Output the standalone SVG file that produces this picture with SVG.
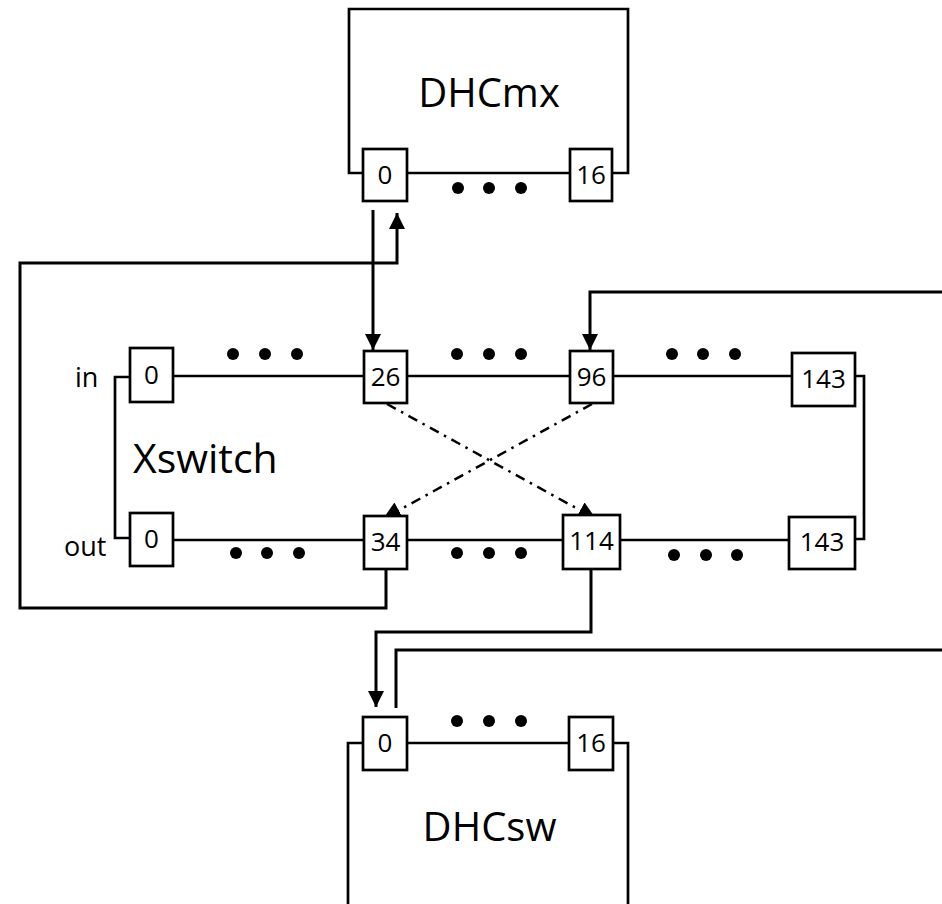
<svg xmlns="http://www.w3.org/2000/svg" width="942" height="904" viewBox="0 0 942 904">
<style>
.ln{fill:none;stroke:#000;stroke-width:2.7}
.cn{fill:none;stroke:#000;stroke-width:3}
.dd{fill:none;stroke:#000;stroke-width:2.5;stroke-dasharray:10 6 2.5 6}
.box{fill:#fff;stroke:#000;stroke-width:2.7}
.dot{fill:#000}
.num{font-family:'Open Sans','Liberation Sans',sans-serif;font-size:26px;text-anchor:middle;fill:#000}
.lbl{font-family:'Open Sans','Liberation Sans',sans-serif;font-size:27px;fill:#000}
.big{font-family:'Open Sans','Liberation Sans',sans-serif;font-size:40px;fill:#000}
</style>
<defs>
<marker id="ah" markerUnits="userSpaceOnUse" markerWidth="16" markerHeight="16" viewBox="0 0 16 16" refX="16" refY="8" orient="auto">
<path d="M0,0 L16,8 L0,16 Z" fill="#000"/>
</marker>
<marker id="ahd" markerUnits="userSpaceOnUse" markerWidth="18" markerHeight="18" viewBox="0 0 18 18" refX="18" refY="9" orient="auto">
<path d="M0,0 L18,9 L0,18 Z" fill="#000"/>
</marker>
</defs>
<rect width="942" height="904" fill="#fff"/>
<g id="connectors">
<path class="cn" d="M373,210 V350" marker-end="url(#ah)"/>
<path class="cn" d="M386,568 V608 H20 V263 H397 V213" marker-end="url(#ah)"/>
<path class="cn" d="M942,292 H590 V350" marker-end="url(#ah)"/>
<path class="cn" d="M591,569 V632 H376 V707" marker-end="url(#ah)"/>
<path class="cn" d="M396,708 V650 H942"/>
<path class="dd" d="M387,404 L596,519" marker-end="url(#ahd)"/>
<path class="dd" d="M592,404 L383,519" marker-end="url(#ahd)"/>
</g>
<g id="DHCmx">
<path class="ln" d="M363,173 H349 V9 H628 V173 H612 M407,173 H570"/>
<rect class="box" x="363" y="149" width="44" height="52"/>
<text class="num" x="385" y="184">0</text>
<rect class="box" x="570" y="149" width="42" height="52"/>
<text class="num" x="591" y="184">16</text>
<circle class="dot" cx="458" cy="188" r="6"/><circle class="dot" cx="489" cy="188" r="6"/><circle class="dot" cx="521" cy="188" r="6"/>
<text class="big" x="489" y="107" text-anchor="middle">DHCmx</text>
</g>
<g id="Xswitch">
<path class="ln" d="M130,377 H115 V538 H130 M173,376 H364 M407,376 H570 M613,376 H792 M855,376 H864 V539 H855 M173,540 H364 M407,540 H563 M620,540 H789"/>
<rect class="box" x="130" y="348" width="43" height="54"/>
<text class="num" x="151.5" y="384">0</text>
<rect class="box" x="364" y="351" width="43" height="52"/>
<text class="num" x="385.5" y="386">26</text>
<rect class="box" x="570" y="351" width="43" height="52"/>
<text class="num" x="591.5" y="386">96</text>
<rect class="box" x="792" y="353" width="63" height="53"/>
<text class="num" x="823.5" y="388">143</text>
<rect class="box" x="130" y="513" width="43" height="53"/>
<text class="num" x="151.5" y="548">0</text>
<rect class="box" x="364" y="516" width="43" height="53"/>
<text class="num" x="385.5" y="551">34</text>
<rect class="box" x="563" y="515" width="57" height="54"/>
<text class="num" x="591.5" y="550">114</text>
<rect class="box" x="789" y="517" width="66" height="52"/>
<text class="num" x="822" y="551">143</text>
<circle class="dot" cx="233" cy="354" r="6"/><circle class="dot" cx="265" cy="354" r="6"/><circle class="dot" cx="297" cy="354" r="6"/>
<circle class="dot" cx="457" cy="354" r="6"/><circle class="dot" cx="489" cy="354" r="6"/><circle class="dot" cx="521" cy="354" r="6"/>
<circle class="dot" cx="672" cy="354" r="6"/><circle class="dot" cx="703" cy="354" r="6"/><circle class="dot" cx="735" cy="354" r="6"/>
<circle class="dot" cx="236" cy="553" r="6"/><circle class="dot" cx="267" cy="553" r="6"/><circle class="dot" cx="299" cy="553" r="6"/>
<circle class="dot" cx="457" cy="553" r="6"/><circle class="dot" cx="489" cy="553" r="6"/><circle class="dot" cx="521" cy="553" r="6"/>
<circle class="dot" cx="674" cy="555" r="6"/><circle class="dot" cx="706" cy="555" r="6"/><circle class="dot" cx="737" cy="555" r="6"/>
<text class="lbl" x="75" y="387">in</text>
<text class="lbl" x="64" y="556">out</text>
<text class="big" x="133" y="473" style="font-size:41px">Xswitch</text>
</g>
<g id="DHCsw">
<path class="ln" d="M363,743 H348 V906 M613,743 H628 V906 M407,743 H569"/>
<rect class="box" x="363" y="717" width="44" height="53"/>
<text class="num" x="385" y="752">0</text>
<rect class="box" x="569" y="717" width="44" height="53"/>
<text class="num" x="591" y="752">16</text>
<circle class="dot" cx="457" cy="721" r="6"/><circle class="dot" cx="489" cy="721" r="6"/><circle class="dot" cx="521" cy="721" r="6"/>
<text class="big" x="489.5" y="841" text-anchor="middle">DHCsw</text>
</g>
</svg>
